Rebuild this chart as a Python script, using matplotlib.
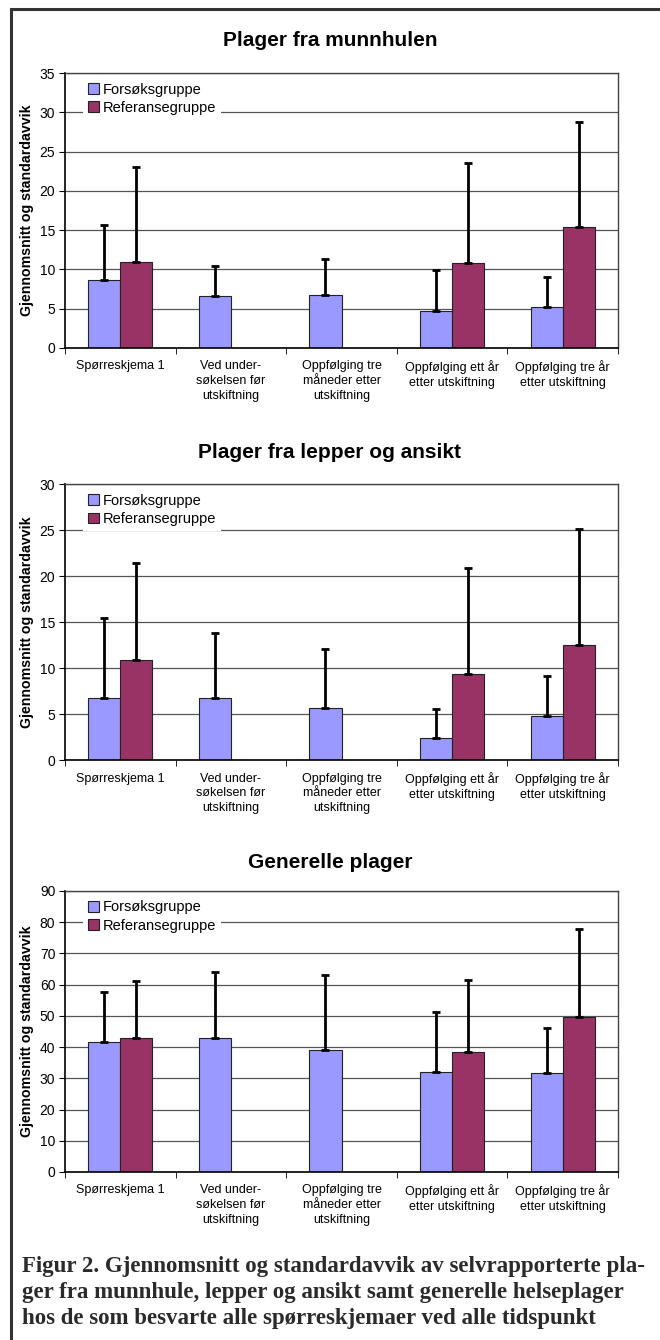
#!/usr/bin/env python3
"""Grouped bar charts with one-sided SD error bars (three panels + caption)."""

import numpy as np
import matplotlib
matplotlib.use("Agg")
import matplotlib.pyplot as plt
from matplotlib.patches import Rectangle

plt.rcParams["font.family"] = ["Liberation Sans", "DejaVu Sans"]

CATEGORIES = [
    "Spørreskjema 1",
    "Ved under-\nsøkelsen før\nutskiftning",
    "Oppfølging tre\nmåneder etter\nutskiftning",
    "Oppfølging ett år\netter utskiftning",
    "Oppfølging tre år\netter utskiftning",
]
SERIES = ["Forsøksgruppe", "Referansegruppe"]
COLORS = ["#9999FF", "#993366"]

nan = np.nan

# Plager fra munnhulen
munn_mean_f = [8.6, 6.65, 6.7, 4.7, 5.2]
munn_sd_f = [7.0, 3.85, 4.6, 5.2, 3.85]
munn_mean_r = [11.0, nan, nan, 10.8, 15.4]
munn_sd_r = [12.0, nan, nan, 12.8, 13.4]

# Plager fra lepper og ansikt
lepp_mean_f = [6.7, 6.7, 5.7, 2.4, 4.8]
lepp_sd_f = [8.8, 7.15, 6.4, 3.2, 4.3]
lepp_mean_r = [10.9, nan, nan, 9.35, 12.5]
lepp_sd_r = [10.5, nan, nan, 11.55, 12.6]

# Generelle plager
gen_mean_f = [41.5, 42.8, 39.0, 32.0, 31.6]
gen_sd_f = [16.2, 21.3, 24.1, 19.2, 14.4]
gen_mean_r = [43.0, nan, nan, 38.3, 49.5]
gen_sd_r = [18.1, nan, nan, 23.2, 28.3]

PANELS = [
    ("Plager fra munnhulen", 35, 5, munn_mean_f, munn_sd_f, munn_mean_r, munn_sd_r),
    ("Plager fra lepper og ansikt", 30, 5, lepp_mean_f, lepp_sd_f, lepp_mean_r, lepp_sd_r),
    ("Generelle plager", 90, 10, gen_mean_f, gen_sd_f, gen_mean_r, gen_sd_r),
]

CAPTION = (
    "Figur 2. Gjennomsnitt og standardavvik av selvrapporterte pla-\n"
    "ger fra munnhule, lepper og ansikt samt generelle helseplager\n"
    "hos de som besvarte alle spørreskjemaer ved alle tidspunkt"
)

fig = plt.figure(figsize=(6.6, 13.4), dpi=100)
fig.patch.set_facecolor("white")

# outer frame around the whole figure
fig.patches.append(Rectangle((11 / 660, -0.02), 1.0, 0.02 + 1 - 9 / 1340,
                             transform=fig.transFigure, fill=False,
                             edgecolor="#333333", linewidth=2.2, zorder=0))

# axes boxes: (bottom, height) in figure fractions
boxes = [(0.7403, 0.2052), (0.4328, 0.2058), (0.1254, 0.2097)]
title_y = [1 - 41 / 1340, 1 - 452 / 1340, 1 - 863 / 1340]

x = np.arange(len(CATEGORIES))
w = 0.29

for (title, ymax, step, mf, sf, mr, sr), (bot, h), ty in zip(PANELS, boxes, title_y):
    ax = fig.add_axes([0.0985, bot, 0.8379, h])
    mf, sf, mr, sr = map(np.array, (mf, sf, mr, sr))

    ax.bar(x - w / 2, mf, w, color=COLORS[0], edgecolor="#222222",
           linewidth=0.8, label=SERIES[0], zorder=2)
    ax.bar(x + w / 2, mr, w, color=COLORS[1], edgecolor="#222222",
           linewidth=0.8, label=SERIES[1], zorder=2)
    ax.errorbar(x - w / 2, mf, yerr=[np.zeros_like(sf), sf], fmt="none",
                ecolor="black", elinewidth=2, capsize=3, capthick=2, zorder=3)
    ok = ~np.isnan(mr)
    ax.errorbar((x + w / 2)[ok], mr[ok], yerr=[np.zeros(ok.sum()), sr[ok]], fmt="none",
                ecolor="black", elinewidth=2, capsize=3, capthick=2, zorder=3)

    ax.set_xlim(-0.5, len(CATEGORIES) - 0.5)
    ax.set_ylim(0, ymax)
    ax.set_yticks(np.arange(0, ymax + 1, step))
    ax.yaxis.grid(True, color="#555555", linewidth=0.9, zorder=0)
    ax.set_axisbelow(True)
    ax.tick_params(axis="y", labelsize=10, length=4, direction="out", pad=3)

    ax.set_xticks(x)
    ax.set_xticklabels(CATEGORIES, fontsize=9, linespacing=1.3)
    ax.tick_params(axis="x", length=0, pad=9)
    ax.set_xticks(np.arange(-0.5, len(CATEGORIES)), minor=True)
    ax.tick_params(axis="x", which="minor", length=4, direction="out")

    for side in ("left", "bottom"):
        ax.spines[side].set_color("black")
        ax.spines[side].set_linewidth(1.2)
    for side in ("top", "right"):
        ax.spines[side].set_color("#444444")
        ax.spines[side].set_linewidth(1.0)

    ax.set_ylabel("Gjennomsnitt og standardavvik", fontsize=10.2, fontweight="bold",
                  labelpad=4)

    leg = ax.legend(loc="upper left", bbox_to_anchor=(0.025, 1.0), fontsize=10.5,
                    frameon=True, fancybox=False, framealpha=1, edgecolor="white",
                    handlelength=0.75, handleheight=0.75, handletextpad=0.25,
                    borderpad=0.35, borderaxespad=0.3, labelspacing=0.3)
    leg.get_frame().set_linewidth(0)
    leg.set_zorder(5)
    for hnd in leg.legend_handles:
        hnd.set_edgecolor("#222222")

    fig.text(0.5, ty, title, ha="center", va="center", fontsize=15,
             fontweight="bold")

fig.text(22 / 660, 1 - 1256 / 1340, CAPTION, ha="left", va="top",
         family=["Liberation Serif", "DejaVu Serif"], fontweight="bold",
         fontsize=16.5, linespacing=1.3, color="#2a2a2a")

fig.savefig("out.png", dpi=100)
